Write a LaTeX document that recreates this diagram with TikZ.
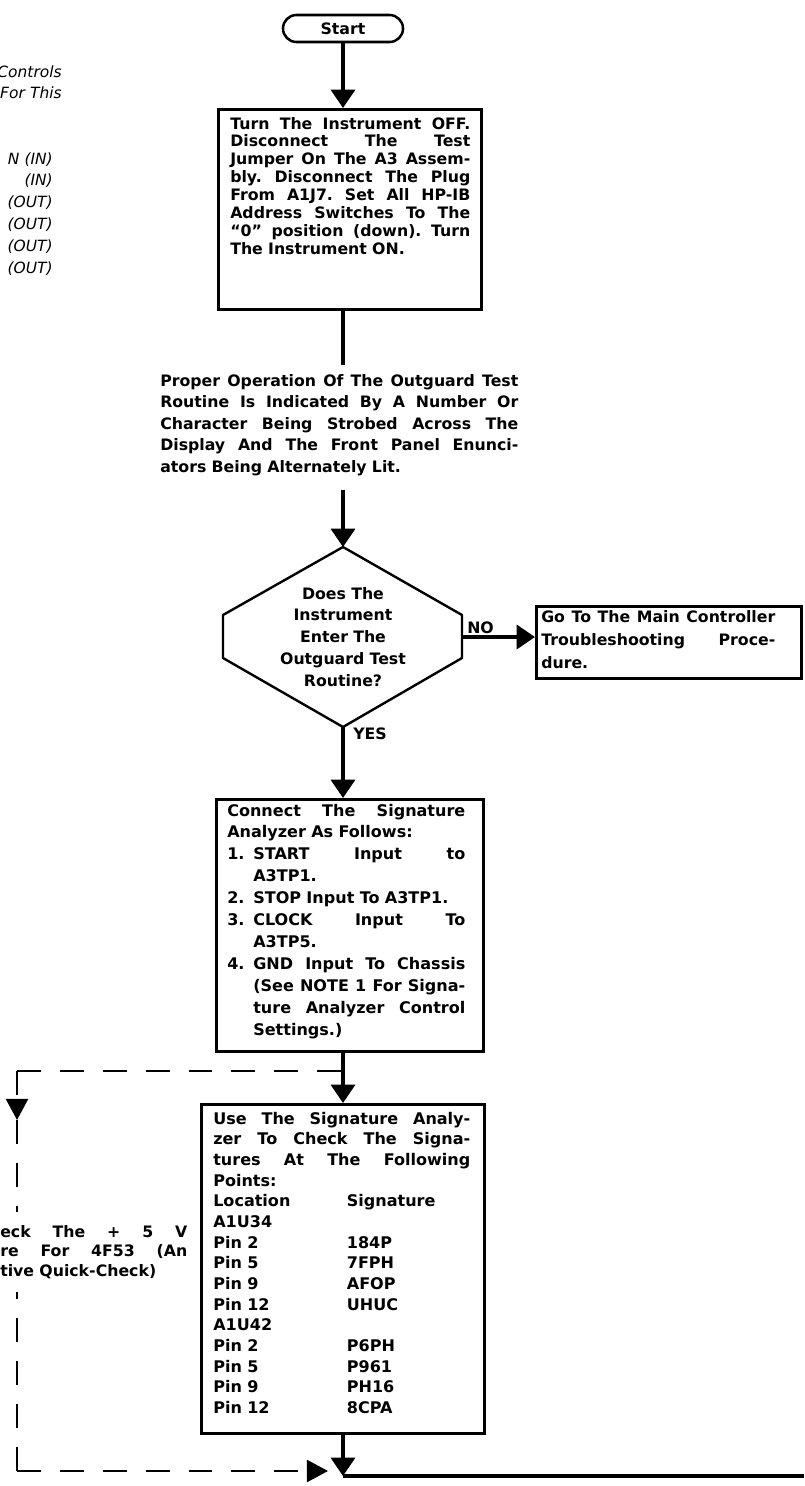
\documentclass[tikz,border=0pt]{standalone}
\usepackage{fontspec}
\setmainfont{DejaVu Sans}
\usetikzlibrary{arrows.meta,positioning,shapes.misc,calc}

\newlength{\hangw}
\setlength{\hangw}{18.5pt}
\newlength{\jw}
\newcommand{\fillsp}{\spaceskip=\fontdimen2\font plus 1fil\xspaceskip=\spaceskip\relax}
\newcommand{\jl}[1]{\makebox[\jw][s]{\fillsp#1}}
\newcommand{\jitem}[2]{\makebox[\hangw][l]{#1}\makebox[\dimexpr\jw-\hangw\relax][s]{\fillsp#2}}
\newcommand{\jhang}[1]{\hspace*{\hangw}\makebox[\dimexpr\jw-\hangw\relax][s]{\fillsp#1}}
\newcommand{\sigrow}[2]{\makebox[95pt][l]{#1}#2}

\tikzset{
  flowline/.style={line width=2.5pt},
  flowarrow/.style={line width=2.5pt,-{Triangle[width=17pt,length=13pt]}},
  dashline/.style={line width=1.9pt,dash pattern=on 17pt off 13.5pt},
  dasharrow/.style={dashline,-{Triangle[width=15.6pt,length=15pt]}},
  boxframe/.style={draw,line width=1.8pt,inner sep=0pt,anchor=north west},
  startbox/.style={draw,rounded rectangle,line width=1.8pt,inner sep=0pt,
    minimum width=3cm,minimum height=0.675cm,font=\bfseries\fontsize{11.2}{12}\selectfont},
  jw/.style={text width=#1,execute at begin node={\setlength{\jw}{#1}}},
  bodytext/.style={inner sep=0pt,anchor=base west,align=left,
    font=\bfseries\fontsize{11.2}{12.7}\selectfont},
  widetext/.style={bodytext,font=\bfseries\fontsize{11.2}{15.4}\selectfont},
  sigtext/.style={bodytext,font=\bfseries\fontsize{11.4}{15.6}\selectfont},
  asktext/.style={inner sep=0pt,align=center,text width=4cm,
    font=\bfseries\fontsize{11.2}{15.6}\selectfont},
  labeltext/.style={inner sep=0pt,anchor=base west,font=\bfseries\fontsize{11.2}{12}\selectfont},
  notetext/.style={inner sep=0pt,anchor=base east,align=right,text width=2cm,
    font=\itshape\fontsize{11}{15.6}\selectfont}
}

\begin{document}
\begin{tikzpicture}[x=0.025cm,y=-0.025cm]
\useasboundingbox (0,0) rectangle (804,1486);

% cut-off note at the left
\node[notetext] (notehead) at (62,77) {Controls\\For This};
\node[notetext] (notelist) at (53,164) {N (IN)\\(IN)\\(OUT)\\(OUT)\\(OUT)\\(OUT)};

% start and first step
\node[startbox] (start) at (343,28.5) {Start};
\node[boxframe,minimum width=6.575cm,minimum height=5cm] (setup) at (217,108) {};
\node[bodytext,jw=6cm] (setuptext) at (230,129) {%
  \jl{Turn The Instrument OFF.}\\
  \jl{Disconnect The Test}\\
  \jl{Jumper On The A3 Assem-}\\
  \jl{bly. Disconnect The Plug}\\
  \jl{From A1J7. Set All HP-IB}\\
  \jl{Address Switches To The}\\
  \jl{``0'' position (down). Turn}\\
  The Instrument ON.};
\draw[flowarrow] (start.south) -- (start.south |- setup.north);

\coordinate (stub) at (343,365);
\draw[flowline] (start.south |- setup.south) -- (stub);

\node[widetext,jw=8.95cm] (proper) at (160,386) {%
  \jl{Proper Operation Of The Outguard Test}\\
  \jl{Routine Is Indicated By A Number Or}\\
  \jl{Character Being Strobed Across The}\\
  \jl{Display And The Front Panel Enunci-}\\
  ators Being Alternately Lit.};

% decision
\coordinate (stub2) at (343,490);
\coordinate (qtop) at (343,547);
\coordinate (qul) at (223,615);
\coordinate (qll) at (223,658);
\coordinate (qbot) at (343,727);
\coordinate (qlr) at (462,658);
\coordinate (qur) at (462,615);
\coordinate (qright) at (462,637);
\draw[line width=1.7pt,line join=round] (qtop) -- (qul) -- (qll) -- (qbot) -- (qlr) -- (qur) -- cycle;
\node[asktext] (ask) at (343,637) {Does The\\Instrument\\Enter The\\Outguard Test\\Routine?};
\draw[flowarrow] (stub2) -- (qtop);

\node[boxframe,minimum width=6.625cm,minimum height=1.8cm] (gomain) at (535,605) {};
\node[widetext,jw=5.85cm,font=\bfseries\fontsize{11.2}{16.7}\selectfont] (gotext) at (541,622) {%
  \jl{Go To The Main Controller}\\
  \jl{Troubleshooting Proce-}\\
  dure.};
\draw[flowarrow] (qright) -- (qright -| gomain.west);
\node[labeltext] (nolabel) at (467,633) {NO};
\node[labeltext] (yeslabel) at (353,739) {YES};

% signature analyzer set-up
\node[boxframe,minimum width=6.675cm,minimum height=6.3cm] (connect) at (215,798) {};
\node[sigtext,jw=5.95cm] (connecttext) at (227,816) {%
  \jl{Connect The Signature}\\
  Analyzer As Follows:\\
  \jitem{1.}{START Input to}\\
  \hspace*{\hangw}A3TP1.\\
  \makebox[\hangw][l]{2.}STOP Input To A3TP1.\\
  \jitem{3.}{CLOCK Input To}\\
  \hspace*{\hangw}A3TP5.\\
  \jitem{4.}{GND Input To Chassis}\\
  \jhang{(See NOTE 1 For Signa-}\\
  \jhang{ture Analyzer Control}\\
  \hspace*{\hangw}Settings.)};
\draw[flowarrow] (qbot) -- (qbot |- connect.north);

\node[boxframe,minimum width=7.075cm,minimum height=8.225cm] (usesa) at (200,1103) {};
\node[sigtext,jw=6.425cm,font=\bfseries\fontsize{11.4}{14.7}\selectfont] (usesatext) at (213,1124) {%
  \jl{Use The Signature Analy-}\\
  \jl{zer To Check The Signa-}\\
  \jl{tures At The Following}\\
  Points:\\
  \sigrow{Location}{Signature}\\
  A1U34\\
  \sigrow{Pin 2}{184P}\\
  \sigrow{Pin 5}{7FPH}\\
  \sigrow{Pin 9}{AFOP}\\
  \sigrow{Pin 12}{UHUC}\\
  A1U42\\
  \sigrow{Pin 2}{P6PH}\\
  \sigrow{Pin 5}{P961}\\
  \sigrow{Pin 9}{PH16}\\
  \sigrow{Pin 12}{8CPA}};
\draw[flowarrow] (qbot |- connect.south) -- (qbot |- usesa.north);

% dashed quick-check branch
\coordinate (split) at (343,1071);
\coordinate (dcorner) at (17,1071);
\coordinate (dtip) at (17,1120);
\coordinate (dabove) at (17,1212);
\coordinate (dbelow) at (17,1292);
\coordinate (dbottom) at (17,1471);
\coordinate (dend) at (328,1471);
\node[bodytext,jw=4.675cm,font=\bfseries\fontsize{11.2}{14.2}\selectfont] (check) at (0,1237) {%
  \jl{eck The + 5 V}\\
  \jl{re For 4F53 (An}\\
  tive Quick-Check)};
\draw[dashline] (dcorner) -- (split);
\draw[dasharrow] (dcorner) -- (dtip);
\draw[dashline] (dtip) -- (dabove);
\draw[dashline] (dbottom) -- (dbelow);
\draw[dasharrow] (dbottom) -- (dend);

% exit
\coordinate (join) at (343,1476);
\coordinate (exit) at (804,1476);
\draw[flowarrow] (qbot |- usesa.south) -- (join);
\draw[flowline] (join) -- (exit);
\end{tikzpicture}
\end{document}
